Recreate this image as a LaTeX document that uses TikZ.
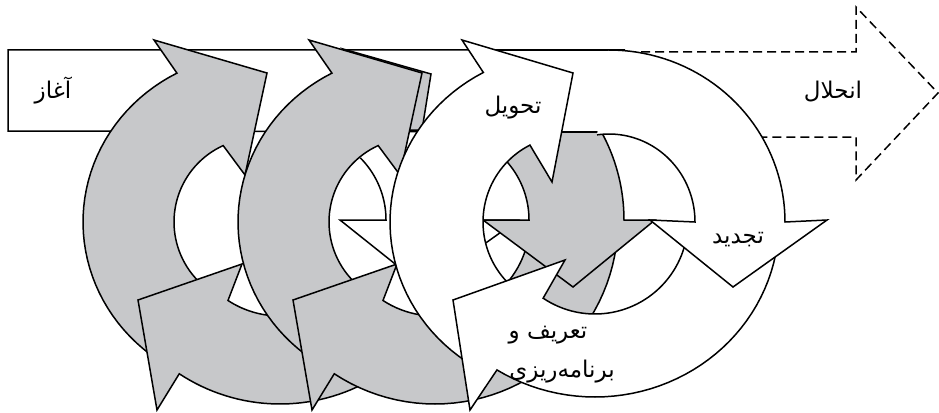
\documentclass[tikz,border=0pt]{standalone}
\usepackage{fontspec}
\newfontfamily\arabicfont[Script=Arabic]{DejaVu Sans}
\TeXXeTstate=1
\definecolor{gfill}{RGB}{199,200,202}
\begin{document}
\begin{tikzpicture}[x=1pt,y=-1pt,line width=1.5pt,samples=40,line join=miter,
  gr/.style={fill=gfill,draw=black},
  wh/.style={fill=white,draw=black},
  lbl/.style={font=\arabicfont\fontsize{23}{27}\selectfont,inner sep=0pt}]
\useasboundingbox (0,0) rectangle (939,412);

% big arrow: solid left part
\fill[white] (8,50) -- (625,50) -- (625,132) -- (8,131) -- cycle;
\draw (625,50) -- (8,50) -- (8,131) -- (625,132);
% big arrow: dashed right part
\fill[white] (600,52) -- (856,52) -- (856,7) -- (938,93) -- (856,180) -- (856,137) -- (600,137) -- cycle;
\draw[dash pattern=on 9pt off 5pt] (613,52) -- (856,52) -- (856,7) -- (938,93) -- (856,180) -- (856,137) -- (640,137);

% cycle 1
\filldraw[wh] plot[domain=335:360,variable=\t] ({298+183*cos(\t)},{220+183*sin(\t)}) -- (518,220) -- (424,287) -- (340,220) -- plot[domain=360:315,variable=\t] ({298+88*cos(\t)},{220+88*sin(\t)});
\filldraw[gr] plot[domain=125:242.4,variable=\t] ({258+175*cos(\t)},{222+168*sin(\t)}) -- (154,40) -- (267,73) -- (245,175) -- plot[domain=245.5:130,variable=\t] ({258+84*cos(\t)},{222+84*sin(\t)});
\filldraw[gr] plot[domain=45:123.4,variable=\t] ({280+183*cos(\t)},{221+183*sin(\t)}) -- (157,410) -- (138,300) -- (242,264) -- plot[domain=123.2:45,variable=\t] ({280+95*cos(\t)},{221+95*sin(\t)});

% cycle 2
\filldraw[gr] (343,49) -- (431,74) -- (422,130) -- (405,130) -- (400,100) -- cycle;
\filldraw[gr] plot[domain=125:242.4,variable=\t] ({413+175*cos(\t)},{222+168*sin(\t)}) -- (309,40) -- (422,73) -- (400,175) -- plot[domain=245.5:130,variable=\t] ({413+84*cos(\t)},{222+84*sin(\t)});
\filldraw[gr] plot[domain=5:123.4,variable=\t] ({435+183*cos(\t)},{221+183*sin(\t)}) -- (312,410) -- (293,300) -- (397,264) -- plot[domain=123.2:5,variable=\t] ({435+95*cos(\t)},{221+95*sin(\t)});
\filldraw[gr] plot[domain=293:360,variable=\t] ({441+183*cos(\t)},{220+183*sin(\t)}) -- (655,220) -- (573,287) -- (483,220) -- plot[domain=360:290,variable=\t] ({441+88*cos(\t)},{220+88*sin(\t)});

% part of the big arrow lying over cycle 2
\fill[white] (495,50) rectangle (625,132);
\draw (495,50) -- (625,50);
\draw (495,132) -- (625,132);

% cycle 3
\filldraw[wh] plot[domain=125:241.6,variable=\t] ({568+178*cos(\t)},{222+170*sin(\t)}) -- (462,40) -- (573,73) -- (552,182) -- plot[domain=243.4:130,variable=\t] ({568+85*cos(\t)},{222+86*sin(\t)});
\filldraw[wh] plot[domain=8:122.2,variable=\t] ({595+184*cos(\t)},{221+176*sin(\t)}) -- (470,410) -- (453,300) -- (565,260) -- plot[domain=123.9:16,variable=\t] ({595+93*cos(\t)},{221+93*sin(\t)});
\filldraw[wh] plot[domain=270:360,variable=\t] ({609+176*cos(\t)},{222+172*sin(\t)}) -- (827,220) -- (733,287) -- (650,220) -- plot[domain=360:262,variable=\t] ({609+86*cos(\t)},{222+88*sin(\t)});

% labels
\node[lbl] (t1) at (53,91) {\beginR آغاز\endR};
\node[lbl] (t2) at (833,92) {\beginR انحلال\endR};
\node[lbl] (t3) at (513,108) {\beginR تحویل\endR};
\node[lbl] (t4) at (738,240) {\beginR تجدید\endR};
\node[lbl] (t5) at (548,335) {\beginR تعریف و\endR};
\node[lbl] (t6) at (562,372) {\beginR برنامه‌ریزی\endR};
\end{tikzpicture}
\end{document}
